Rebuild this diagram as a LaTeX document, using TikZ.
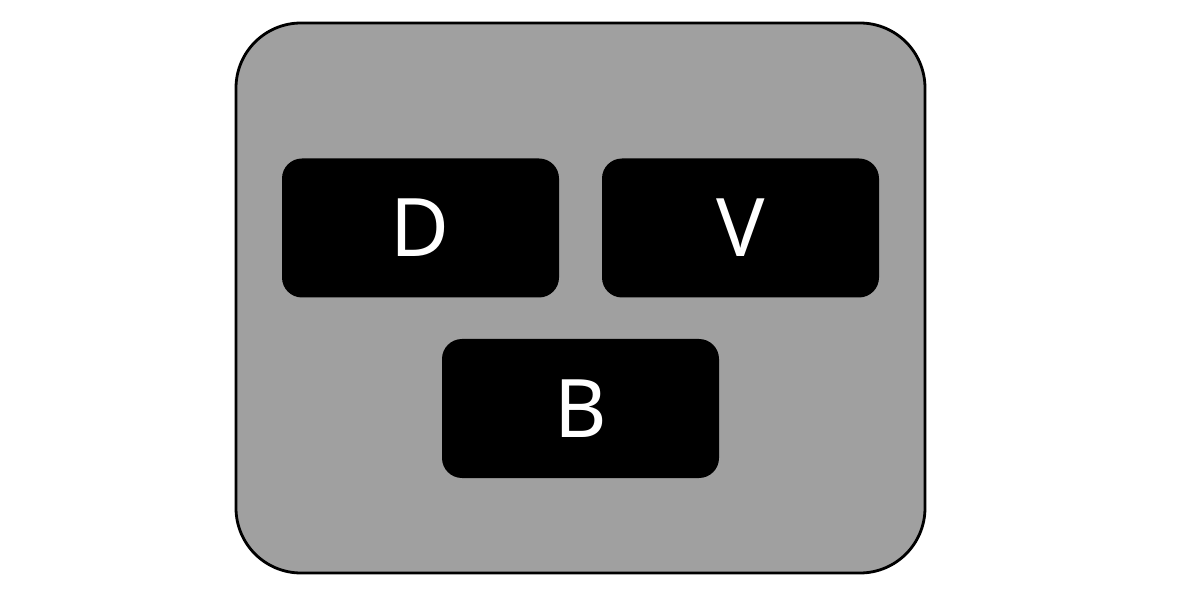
\documentclass[tikz,border=0pt]{standalone}
\usepackage{fontspec}
\setmainfont{Noto Sans}
\definecolor{panelgray}{RGB}{160,160,160}
\begin{document}
\begin{tikzpicture}[
  panel/.style={draw=black,fill=panelgray,line width=0.8pt,rounded corners=0.65cm},
  unit/.style={fill=black,text=white,rounded corners=0.2cm,minimum width=2.77cm,
    minimum height=1.39cm,inner sep=0pt,font=\fontsize{23}{26}\selectfont}]
  \useasboundingbox (0,0) rectangle (12,6);
  \draw[panel] (2.36,0.27) rectangle (9.25,5.77);
  \node[unit] (d) at (4.205,3.72) {D};
  \node[unit] (v) at (7.405,3.72) {V};
  \node[unit] (b) at (5.805,1.915) {B};
\end{tikzpicture}
\end{document}
